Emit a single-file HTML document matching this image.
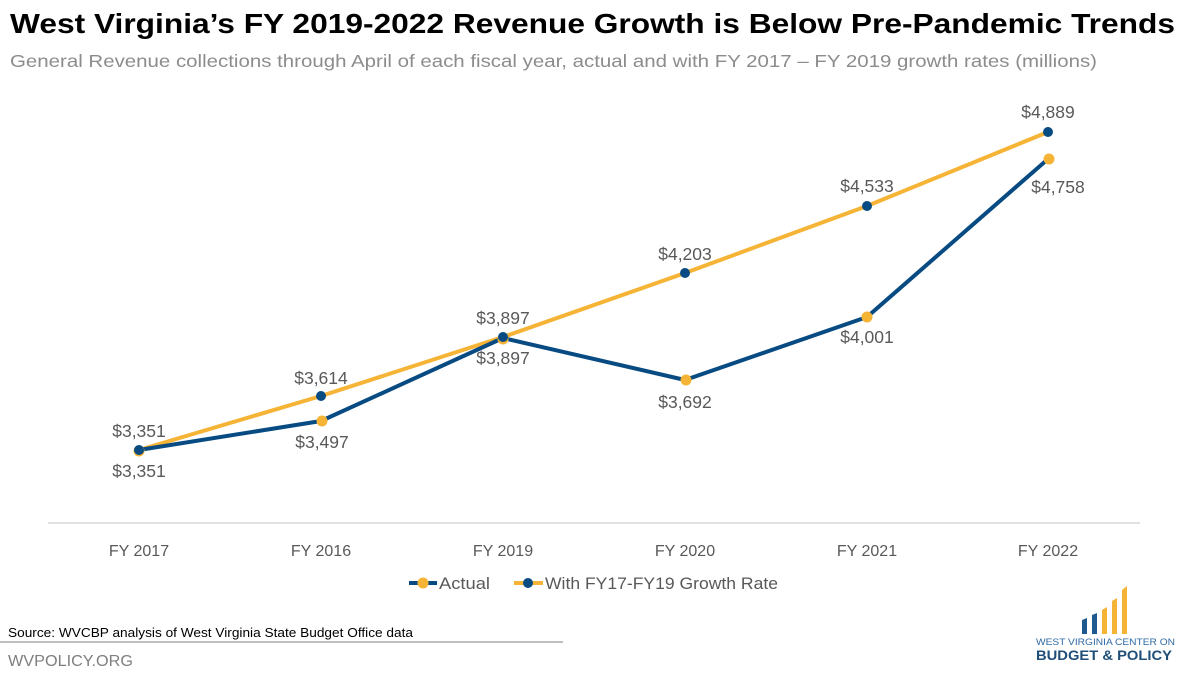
<!DOCTYPE html>
<html>
<head>
<meta charset="utf-8">
<style>
  html,body{margin:0;padding:0;background:#ffffff;}
  svg{display:block;}
  text{font-family:"Liberation Sans", sans-serif;}
</style>
</head>
<body>
<svg width="1200" height="675" viewBox="0 0 1200 675" xmlns="http://www.w3.org/2000/svg">
  <rect x="0" y="0" width="1200" height="675" fill="#ffffff"/>
  <!-- Title -->
  <text x="10" y="33" font-size="28" font-weight="bold" fill="#000000" textLength="1165" lengthAdjust="spacingAndGlyphs">West Virginia’s FY 2019-2022 Revenue Growth is Below Pre-Pandemic Trends</text>
  <text x="10" y="67" font-size="17.5" fill="#8c8c8c" textLength="1087" lengthAdjust="spacingAndGlyphs">General Revenue collections through April of each fiscal year, actual and with FY 2017 – FY 2019 growth rates (millions)</text>

  <!-- Axis line -->
  <line x1="48" y1="523" x2="1140" y2="523" stroke="#d9d9d9" stroke-width="1.5"/>

  <!-- X labels -->
  <g font-size="16" fill="#595959" text-anchor="middle">
    <text x="139" y="556">FY 2017</text>
    <text x="321" y="556">FY 2016</text>
    <text x="503" y="556">FY 2019</text>
    <text x="685" y="556">FY 2020</text>
    <text x="867" y="556">FY 2021</text>
    <text x="1048" y="556">FY 2022</text>
  </g>

  <!-- Growth series: yellow line, blue markers -->
  <polyline points="139,450 321,396 503,337 685,273 867,206 1048,132" fill="none" stroke="#f6b436" stroke-width="4" stroke-linejoin="round"/>
  <!-- Actual series: blue line, yellow markers -->
  <polyline points="139,450 321,421 503,338 685,380 867,317 1048,159" fill="none" stroke="#074b82" stroke-width="4" stroke-linejoin="round"/>

  <g fill="#f6b436">
    <circle cx="139" cy="451" r="5.5"/>
    <circle cx="322" cy="421" r="5.5"/>
    <circle cx="503" cy="339" r="5.5"/>
    <circle cx="686" cy="380" r="5.5"/>
    <circle cx="867" cy="317" r="5.5"/>
    <circle cx="1049" cy="159" r="5.5"/>
  </g>
  <g fill="#074b82">
    <circle cx="139" cy="450" r="5"/>
    <circle cx="321" cy="396" r="5"/>
    <circle cx="503" cy="337" r="5"/>
    <circle cx="685" cy="273" r="5"/>
    <circle cx="867" cy="206" r="5"/>
    <circle cx="1048" cy="132" r="5"/>
  </g>

  <!-- Data labels -->
  <g font-size="17.5" fill="#595959" text-anchor="middle">
    <text x="139" y="437">$3,351</text>
    <text x="321" y="384">$3,614</text>
    <text x="503" y="324">$3,897</text>
    <text x="685" y="260">$4,203</text>
    <text x="867" y="192">$4,533</text>
    <text x="1048" y="118">$4,889</text>

    <text x="139" y="477">$3,351</text>
    <text x="322" y="448">$3,497</text>
    <text x="503" y="364">$3,897</text>
    <text x="685" y="408">$3,692</text>
    <text x="867" y="343">$4,001</text>
    <text x="1058" y="193">$4,758</text>
  </g>

  <!-- Legend -->
  <line x1="409" y1="583" x2="437" y2="583" stroke="#074b82" stroke-width="4"/>
  <circle cx="423" cy="583" r="5.5" fill="#f6b436"/>
  <text x="439" y="589" font-size="17" fill="#595959" textLength="51" lengthAdjust="spacingAndGlyphs">Actual</text>
  <line x1="514" y1="583" x2="543" y2="583" stroke="#f6b436" stroke-width="4"/>
  <circle cx="528" cy="583" r="5" fill="#074b82"/>
  <text x="545" y="589" font-size="17" fill="#595959" textLength="233" lengthAdjust="spacingAndGlyphs">With FY17-FY19 Growth Rate</text>

  <!-- Source -->
  <text x="8" y="637" font-size="13" fill="#000000" textLength="405" lengthAdjust="spacingAndGlyphs">Source:  WVCBP analysis of West Virginia State Budget Office data</text>
  <line x1="0" y1="642" x2="563" y2="642" stroke="#7f7f7f" stroke-width="1"/>
  <text x="8" y="666" font-size="16" fill="#7f7f7f" textLength="125" lengthAdjust="spacingAndGlyphs">WVPOLICY.ORG</text>

  <!-- Logo -->
  <g>
    <polygon points="1082,620 1087,618 1087,634 1082,634" fill="#1f5a8f"/>
    <polygon points="1092,615 1097,613 1097,634 1092,634" fill="#1f5a8f"/>
    <polygon points="1102,610 1107,607 1107,634 1102,634" fill="#f6b436"/>
    <polygon points="1112,601 1117,598 1117,634 1112,634" fill="#f6b436"/>
    <polygon points="1122,590 1127,586 1127,634 1122,634" fill="#f6b436"/>
    <text x="1036" y="645" font-size="9" fill="#2e6aa6" textLength="139" lengthAdjust="spacingAndGlyphs">WEST VIRGINIA CENTER ON</text>
    <text x="1036" y="660" font-size="14" font-weight="bold" fill="#1f4e79" textLength="136" lengthAdjust="spacingAndGlyphs">BUDGET &amp; POLICY</text>
  </g>
</svg>
</body>
</html>
